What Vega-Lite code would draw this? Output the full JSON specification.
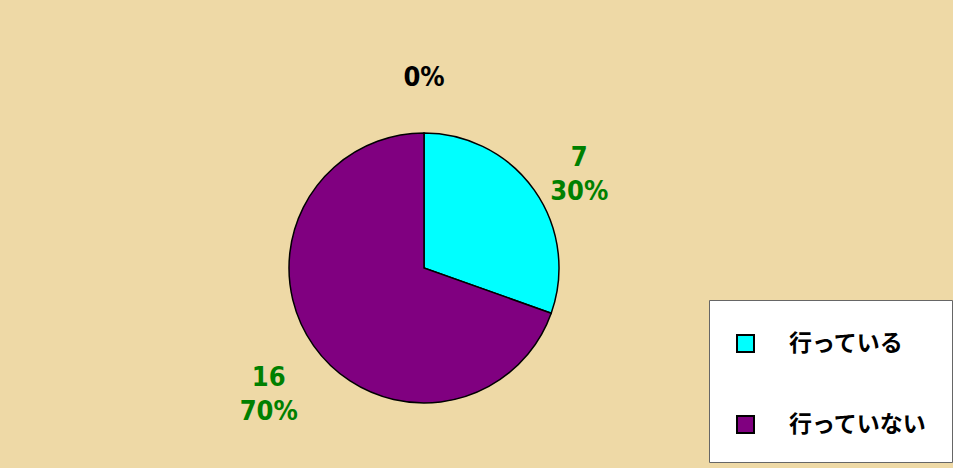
{
  "$schema": "https://vega.github.io/schema/vega-lite/v6.json",
  "autosize": "none",
  "width": 848,
  "height": 400,
  "padding": {"left": 0, "top": 68, "right": 105, "bottom": 0},
  "background": "#EED9A6",
  "config": {"view": {"stroke": null}},
  "data": {
    "values": [
      {"category": "行っている", "count": 7, "rank": 1, "label": "7\n30%"},
      {"category": "行っていない", "count": 16, "rank": 2, "label": "16\n70%"},
      {"category": "その他", "count": 0, "rank": 3, "label": "0%"}
    ]
  },
  "layer": [
    {
      "transform": [{"filter": "datum.count > 0"}],
      "mark": {"type": "arc", "radius": 135, "stroke": "#000000", "strokeWidth": 1.5},
      "encoding": {
        "theta": {"field": "count", "type": "quantitative", "stack": true},
        "order": {"field": "rank", "type": "quantitative"},
        "color": {
          "field": "category",
          "type": "nominal",
          "scale": {"domain": ["行っている", "行っていない"], "range": ["#00FFFF", "#800080"]},
          "legend": {
            "title": " ",
            "titleFontSize": 4,
            "titlePadding": 3,
            "orient": "none",
            "legendX": 709,
            "legendY": 232,
            "direction": "vertical",
            "fillColor": "#FFFFFF",
            "strokeColor": "#666666",
            "padding": 25,
            "rowPadding": 56,
            "symbolType": "square",
            "symbolSize": 289,
            "symbolStrokeColor": "#000000",
            "symbolStrokeWidth": 2,
            "symbolOpacity": 1,
            "labelFont": "Noto Sans CJK JP",
            "labelFontWeight": "bold",
            "labelFontSize": 23,
            "labelColor": "#000000",
            "labelOffset": 32,
            "labelLimit": 300
          }
        }
      }
    },
    {
      "mark": {
        "type": "text",
        "radius": 190,
        "font": "DejaVu Sans Condensed, Liberation Sans, sans-serif",
        "fontSize": 27,
        "fontWeight": "bold",
        "lineBreak": "\n",
        "lineHeight": 34,
        "align": "center",
        "baseline": "middle"
      },
      "encoding": {
        "theta": {"field": "count", "type": "quantitative", "stack": true},
        "order": {"field": "rank", "type": "quantitative"},
        "text": {"field": "label"},
        "color": {"condition": {"test": "datum.count == 0", "value": "#000000"}, "value": "#008000"}
      }
    }
  ]
}
